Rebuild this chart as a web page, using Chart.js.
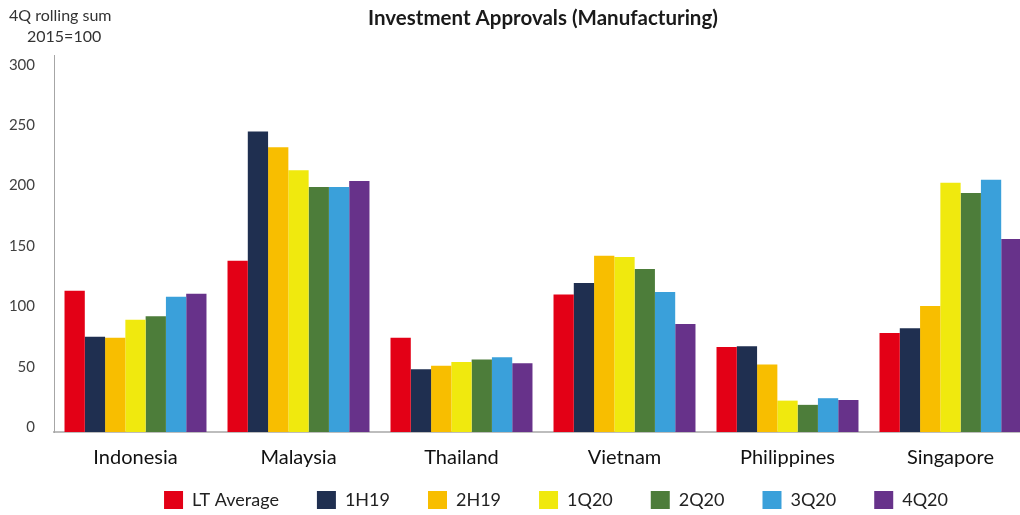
<!DOCTYPE html>
<html>
<head>
<meta charset="utf-8">
<script src="https://cdn.jsdelivr.net/npm/chart.js@4"></script>
<style>
  html, body { margin: 0; padding: 0; background: #fff; overflow: hidden; width: 1020px; height: 515px; }
  #wrap { position: absolute; left: 0; top: 0; width: 1112px; height: 515px; }
  canvas { display: block; background: #fff; }
</style>
</head>
<body>
<div id="wrap"><canvas id="c" width="1112" height="515"></canvas></div>
<script>
const categories = ['Indonesia', 'Malaysia', 'Thailand', 'Vietnam', 'Philippines', 'Singapore'];
const seriesNames = ['LT Average', '1H19', '2H19', '1Q20', '2Q20', '3Q20', '4Q20'];
const ltAverage = [117, 142, 78, 114, 70.5, 82];
const h1_19 = [79, 249, 52, 123.5, 71, 86];
const h2_19 = [78, 236, 55, 146, 56, 104.5];
const q1_20 = [93, 217, 58, 145, 26, 206.5];
const q2_20 = [96, 203, 60, 135, 22.5, 198];
const q3_20 = [112, 203, 62, 116, 28, 209];
const q4_20 = [114.5, 208, 57, 89.5, 26.5, 160];
const yTickValues = [0, 50, 100, 150, 200, 250, 300];
const chartTitle = 'Investment Approvals (Manufacturing)';
const axisCaption = ['4Q rolling sum', '2015=100'];

const seriesValues = [ltAverage, h1_19, h2_19, q1_20, q2_20, q3_20, q4_20];
const seriesColors = ['#E30016', '#1F2F50', '#F8BE00', '#F0E90E', '#4D7D3A', '#3AA0DA', '#67328A'];

const FONT = 'Lato, "Open Sans", sans-serif';

const captionPlugin = {
  id: 'caption',
  afterDraw(chart) {
    const ctx = chart.ctx;
    ctx.save();
    ctx.fillStyle = '#333';
    ctx.font = '16px ' + FONT;
    ctx.textBaseline = 'middle';
    ctx.textAlign = 'left';
    ctx.fillText(axisCaption[0], 9, 16);
    ctx.fillText(axisCaption[1], 27, 37);
    ctx.restore();
  }
};

new Chart(document.getElementById('c'), {
  type: 'bar',
  data: {
    labels: categories,
    datasets: seriesNames.map((name, i) => ({
      label: name,
      data: seriesValues[i],
      backgroundColor: seriesColors[i],
      borderWidth: 0,
      categoryPercentage: 0.871,
      barPercentage: 1.0,
      yAxisID: 'y'
    }))
  },
  options: {
    responsive: false,
    animation: false,
    devicePixelRatio: 1,
    layout: { padding: 0 },
    plugins: {
      tooltip: { enabled: false },
      title: {
        display: true,
        text: chartTitle,
        fullSize: false,
        color: '#1a1a1a',
        font: { family: FONT, size: 20.5, weight: 'bold' },
        padding: { top: 5.7, bottom: 24.7 }
      },
      legend: {
        position: 'bottom',
        fullSize: true,
        maxHeight: 62,
        labels: {
          boxWidth: 19,
          boxHeight: 18,
          padding: 38,
          color: '#222',
          font: { family: FONT, size: 18 }
        }
      }
    },
    scales: {
      x: {
        grid: { display: false, drawTicks: false },
        border: { display: true, color: '#bdbdbd', width: 2 },
        ticks: { color: '#111', font: { family: FONT, size: 20 }, mirror: true, padding: -37.5 },
        afterFit: s => { s.height = 21; }
      },
      y: {
        position: 'left',
        min: 0,
        max: 312.4,
        afterBuildTicks: s => { s.ticks = yTickValues.map(v => ({ value: v })); },
        afterFit: s => { s.width = 54; },
        grid: { display: false, drawTicks: false },
        border: { display: true, color: '#a6a6a6', width: 1 },
        ticks: { color: '#404040', font: { family: FONT, size: 15 }, padding: 19, labelOffset: -5 }
      },
      yRight: {
        position: 'right',
        display: true,
        grid: { display: false, drawTicks: false },
        border: { display: false },
        ticks: { display: false },
        afterFit: s => { s.width = 80; }
      }
    }
  },
  plugins: [captionPlugin]
});
</script>
</body>
</html>
